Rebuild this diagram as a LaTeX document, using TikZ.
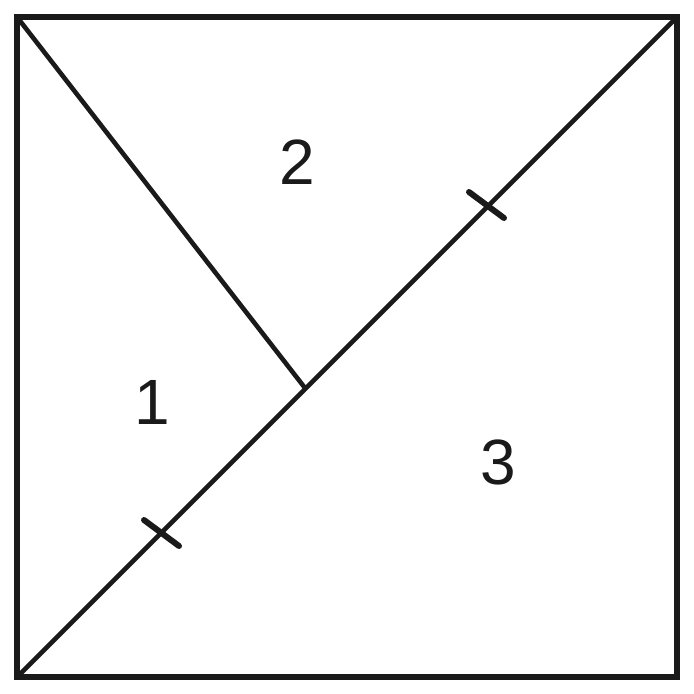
\documentclass[tikz,border=0pt]{standalone}
\usepackage{fontspec}
\setmainfont{Liberation Sans}
\definecolor{ink}{HTML}{1A1A1A}
\begin{document}
\begin{tikzpicture}[x=1pt,y=-1pt,
  frame/.style={draw=ink,line width=6.5pt,line join=miter},
  seg/.style={draw=ink,line width=4.6pt},
  tickmark/.style={draw=ink,line width=6pt,line cap=round},
  lbl/.style={text=ink,font=\fontsize{64}{64}\selectfont,inner sep=0pt}]
\useasboundingbox (0,0) rectangle (694,694);
\coordinate (tl) at (17,17);
\coordinate (tr) at (677,17);
\coordinate (br) at (677,677);
\coordinate (bl) at (17,677);
\coordinate (foot) at (305,388);
\coordinate (t1a) at (144,520);
\coordinate (t1b) at (179,546);
\coordinate (t2a) at (469,192);
\coordinate (t2b) at (504,218);
\draw[seg] (bl) -- (tr);
\draw[seg] (tl) -- (foot);
\draw[tickmark] (t1a) -- (t1b);
\draw[tickmark] (t2a) -- (t2b);
\draw[frame] (tl) -- (tr) -- (br) -- (bl) -- cycle;
\node[lbl] (n1) at (152,402) {1};
\node[lbl] (n2) at (297,162) {2};
\node[lbl] (n3) at (498,462) {3};
\end{tikzpicture}
\end{document}
